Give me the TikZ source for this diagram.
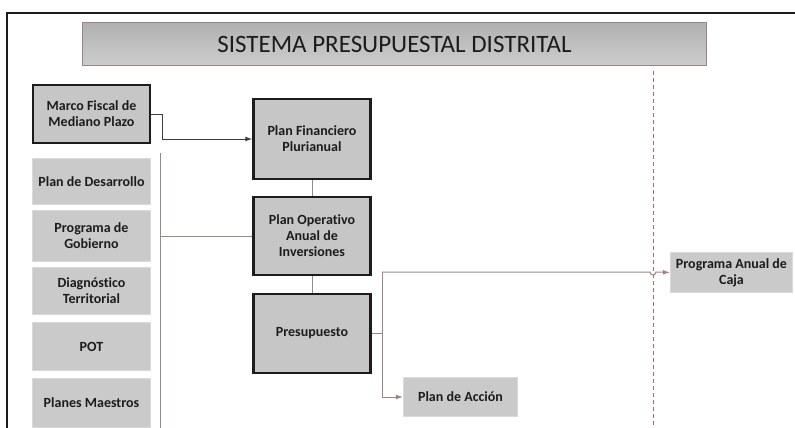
\documentclass[tikz,border=0pt]{standalone}
\usepackage{fontspec}
\setmainfont{Carlito}[Ligatures=NoCommon]
\usetikzlibrary{arrows.meta, positioning, calc}
\definecolor{boxGray}{HTML}{C6C6C6}
\definecolor{softGray}{HTML}{CACACA}
\definecolor{titleGray}{HTML}{C0C0C0}
\definecolor{lineBrown}{HTML}{A08585}
\definecolor{dashRed}{HTML}{A86A6A}
\definecolor{inkDark}{HTML}{1C1C1C}
\tikzset{
    heavybox/.style={draw=inkDark, line width=2.4pt, fill=boxGray, minimum width=117pt,
        align=center, inner sep=0pt, text=inkDark, font=\bfseries\fontsize{14}{16}\selectfont},
    softbox/.style={draw=softGray!70!white, line width=1.2pt, fill=softGray, minimum width=118pt,
        align=center, inner sep=0pt, text=inkDark, font=\bfseries\fontsize{14}{16}\selectfont},
    link/.style={draw=lineBrown, line width=1pt},
    tip/.style={-{Latex[length=7pt,width=5pt]}}
}
\begin{document}
\begin{tikzpicture}[x=1pt, y=-1pt]
        \useasboundingbox (0,0) rectangle (795,428);
        % Frame
        \draw[line width=1.6pt, inkDark] (795,13) -- (7,13) -- (7,430);

        % Title
        \node[draw=lineBrown!80!gray, line width=1.4pt, top color=titleGray!92!black, bottom color=titleGray!80!white,
              minimum width=624pt, minimum height=43pt, inner sep=0pt, text=inkDark,
              font=\fontsize{25}{28}\selectfont] (title) at (394.5,44) {SISTEMA PRESUPUESTAL DISTRITAL};

        % Separation Line
        \draw[dashed, dashRed, line width=0.9pt, dash pattern=on 4pt off 3pt] (653,71) -- (653,430);

        % Left column
        \node[heavybox, minimum height=58pt] (marco) at (91.5,114) {Marco Fiscal de\\Mediano Plazo};
        \node[softbox, minimum height=46pt] (desarrollo) at (91.5,181.5) {Plan de Desarrollo};
        \node[softbox, minimum height=51pt] (gobierno) at (91.5,236) {Programa de\\Gobierno};
        \node[softbox, minimum height=47pt] (diagnostico) at (91.5,291) {Diagnóstico\\Territorial};
        \node[softbox, minimum height=48pt] (pot) at (91.5,346.5) {POT};
        \node[softbox, minimum height=49pt] (maestros) at (91.5,403) {Planes Maestros};

        % Middle column
        \node[heavybox, minimum height=80pt] (financiero) at (312,139) {Plan Financiero\\Plurianual};
        \node[heavybox, minimum height=78pt] (operativo) at (312,236) {Plan Operativo\\Anual de\\Inversiones};
        \node[heavybox, minimum height=79pt] (presupuesto) at (312,333.5) {Presupuesto};

        % Right side
        \node[softbox, minimum width=114pt, minimum height=39pt] (accion) at (460.5,397) {Plan de Acción};
        \node[softbox, minimum width=122pt, minimum height=40pt] (caja) at (731.5,272.5) {Programa Anual de\\Caja};

        % Connectors
        \coordinate (bus) at (160,153);
        \coordinate (fork) at (382,272);
        \draw[inkDark!85, line width=1pt, tip] (marco.east) -- ++(11,0) |- (financiero.west);
        \draw[link] (bus) -- (160,430);
        \draw[link] (bus |- operativo.west) -- (operativo.west);
        \draw[link] (financiero.south) -- (operativo.north);
        \draw[link] (operativo.south) -- (presupuesto.north);
        \draw[link] (presupuesto.east) -- (fork |- presupuesto.east);
        \draw[link, tip] (fork) |- (accion.west);
        \draw[link, tip] (fork) -- (650,272) arc[start angle=180, end angle=0, radius=3] -- (caja.west);
    \end{tikzpicture}
\end{document}
